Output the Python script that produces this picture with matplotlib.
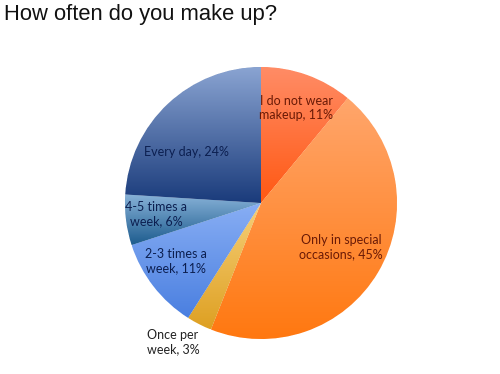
import numpy as np
import matplotlib
matplotlib.use("Agg")
import matplotlib.pyplot as plt
from matplotlib.colors import LinearSegmentedColormap

# data
labels = ["I do not wear\nmakeup, 11%", "Only in special\noccasions, 45%", "Once per\nweek, 3%",
          "2-3 times a\nweek, 11%", "4-5 times a\nweek, 6%", "Every day, 24%"]
values = [11, 45, 3, 11, 6, 24]
tops = ["#ff8c66", "#ffa66c", "#f6d07a", "#88aef4", "#88b2d8", "#8aa4d2"]
bottoms = ["#ff5812", "#ff7810", "#dea022", "#4a7fe0", "#1d5c8e", "#1a3b7b"]
text_colors = ["#6a1a06", "#6a1a06", "#222222", "#0c1f50", "#0c1f50", "#0c1f50"]
# label positions in pixel coordinates of the 500x374 picture
label_px = [(296, 108), (341, 247), (173, 342), (176, 261), (156, 214), (186, 152)]

fig = plt.figure(figsize=(5, 3.74), dpi=100)
fig.patch.set_facecolor("white")

cx, cy, r = 261, 203, 136
ax = fig.add_axes([(cx - r) / 500, (374 - cy - r) / 374, 2 * r / 500, 2 * r / 374])

wedges, _ = ax.pie(values, startangle=90, counterclock=False, radius=1,
                   wedgeprops=dict(linewidth=0.6, edgecolor="white"))

# vertical gradient inside each wedge
grad = np.linspace(1, 0, 256).reshape(-1, 1)
for w, top, bot in zip(wedges, tops, bottoms):
    w.set_facecolor(bot)
    theta = np.radians(np.linspace(w.theta1, w.theta2, 100))
    ys = np.concatenate([[0], np.sin(theta)])
    xs = np.concatenate([[0], np.cos(theta)])
    cmap = LinearSegmentedColormap.from_list("g", [bot, top])
    im = ax.imshow(grad, cmap=cmap, extent=[xs.min(), xs.max(), ys.min(), ys.max()],
                   aspect="auto", zorder=w.get_zorder() + 0.1, origin="upper")
    im.set_clip_path(w)
ax.set_xlim(-1, 1)
ax.set_ylim(-1, 1)
ax.axis("off")

for lab, (px, py), c in zip(labels, label_px, text_colors):
    fig.text(px / 500, 1 - py / 374, lab, ha="center", va="center", color=c,
             fontsize=9, family="Lato", linespacing=1.25)

fig.text(0.008, 0.962, "How often do you make up?", ha="left", va="center",
         fontsize=15.8, family="Liberation Sans", color="#111111")

fig.savefig("out.png", dpi=100)
